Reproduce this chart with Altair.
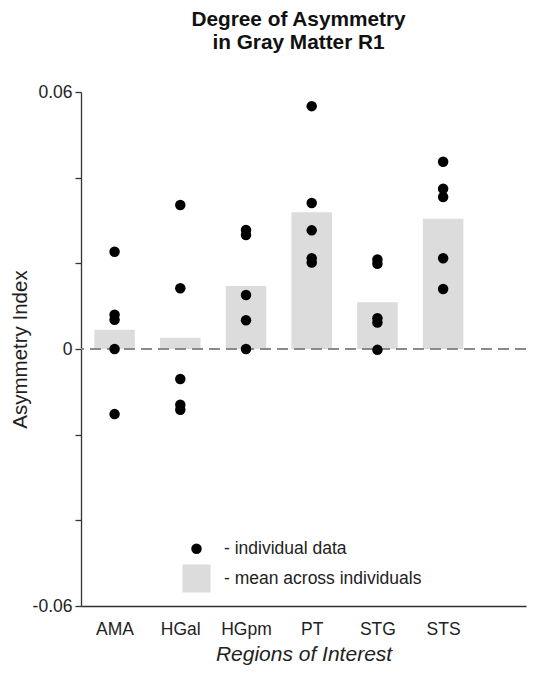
import altair as alt
import pandas as pd

# ---- data ----
regions = ["AMA", "HGal", "HGpm", "PT", "STG", "STS"]
means = [0.0045, 0.0026, 0.0147, 0.0319, 0.0109, 0.0304]
ind_AMA = [0.0227, 0.0080, 0.0068, 0.0, -0.0152]
ind_HGal = [0.0336, 0.0142, -0.0070, -0.0130, -0.0142]
ind_HGpm = [0.0278, 0.0266, 0.0126, 0.0067, 0.0]
ind_PT = [0.0567, 0.0341, 0.0277, 0.0212, 0.0202]
ind_STG = [0.0209, 0.0199, 0.0072, 0.0062, -0.0002]
ind_STS = [0.0437, 0.0374, 0.0355, 0.0212, 0.0140]
individual = [ind_AMA, ind_HGal, ind_HGpm, ind_PT, ind_STG, ind_STS]

y_tick_values = [-0.06, -0.04, -0.02, 0.0, 0.02, 0.04, 0.06]
y_tick_labels = ["-0.06", "", "", "0", "", "", "0.06"]
legend_labels = ["- individual data", "- mean across individuals"]

FONT = "Liberation Sans"

bars_df = pd.DataFrame({"idx": list(range(len(regions))), "region": regions, "mean": means})
pts_rows = []
for i, vals in enumerate(individual):
    for v in vals:
        pts_rows.append({"idx": i, "region": regions[i], "value": v})
pts_df = pd.DataFrame(pts_rows)
legend_df = pd.DataFrame({"kind": legend_labels})

x_label_expr = "[" + ",".join("'%s'" % r for r in regions) + "][datum.value]"
y_label_expr = ""
for v, lab in zip(y_tick_values, y_tick_labels):
    y_label_expr += "abs(datum.value - (%s)) < 1e-9 ? '%s' : " % (v, lab)
y_label_expr += "''"

x_scale = alt.Scale(domain=[-0.435, 6.185], nice=False, zero=False)
y_scale = alt.Scale(domain=[-0.06, 0.06], nice=False)

x_enc = alt.X(
    "idx:Q",
    scale=x_scale,
    axis=alt.Axis(
        values=list(range(len(regions))),
        labelExpr=x_label_expr,
        ticks=False,
        tickSize=0,
        grid=False,
        title="Regions of Interest",
        titleFontStyle="italic",
        titleFontWeight="normal",
        titleFontSize=21,
        labelFontSize=17.5,
        labelPadding=14,
        titlePadding=6,
        labelFlush=False,
    ),
)

y_axis = alt.Axis(
    values=y_tick_values,
    labelExpr=y_label_expr,
    grid=False,
    tickSize=6,
    title="Asymmetry Index",
    titleFontWeight="normal",
    titleFontSize=20.5,
    labelFontSize=17.5,
    labelPadding=3,
    titlePadding=2,
)

bars = alt.Chart(bars_df).mark_bar(color="#dcdcdc", size=40.5).encode(
    x=x_enc,
    y=alt.Y("mean:Q", scale=y_scale, axis=y_axis),
)

zero_line = alt.Chart(bars_df).mark_rule(
    color="#8a8a8a", strokeDash=[11, 6], strokeWidth=1.3
).encode(y=alt.datum(0.0))

points = alt.Chart(pts_df).mark_circle(size=110, color="black", opacity=1).encode(
    x=alt.X("idx:Q", scale=x_scale),
    y=alt.Y("value:Q", scale=y_scale),
)

legend_layer = (
    alt.Chart(legend_df)
    .mark_point(filled=True, opacity=1)
    .encode(
        color=alt.Color(
            "kind:N",
            scale=alt.Scale(domain=legend_labels, range=["black", "#dcdcdc"]),
            legend=alt.Legend(
                title=None,
                orient="none",
                legendX=101,
                legendY=448,
                symbolOpacity=1,
                symbolStrokeWidth=0,
                labelFontSize=17.5,
                labelFont=FONT,
                labelColor="#222222",
                labelOffset=13,
                labelLimit=400,
                rowPadding=6,
                padding=0,
            ),
        ),
        shape=alt.Shape("kind:N", scale=alt.Scale(domain=legend_labels, range=["circle", "square"])),
        size=alt.Size("kind:N", scale=alt.Scale(domain=legend_labels, range=[110, 790])),
    )
    .transform_filter("false")
)

chart = (
    alt.layer(bars, zero_line, points, legend_layer)
    .properties(
        width=519,
        height=657,
        autosize=alt.AutoSizeParams(type="fit", contains="padding"),
        padding={"left": 2, "top": 0, "right": 0, "bottom": 0},
        title=alt.Title(
            ["Degree of Asymmetry", "in Gray Matter R1"],
            fontSize=20.8,
            font=FONT,
            fontWeight="bold",
            anchor="middle",
            lineHeight=23.5,
            offset=25,
            dx=-5,
            dy=-4,
            color="#111111",
        ),
    )
    .configure_view(strokeWidth=0)
    .configure_axis(
        labelFont=FONT,
        titleFont=FONT,
        labelColor="#222222",
        titleColor="#222222",
        domainColor="#333333",
        domainWidth=1.3,
        tickColor="#333333",
        tickWidth=1.3,
    )
)

chart.save("out.html", embed_options={"renderer": "svg", "actions": False})
